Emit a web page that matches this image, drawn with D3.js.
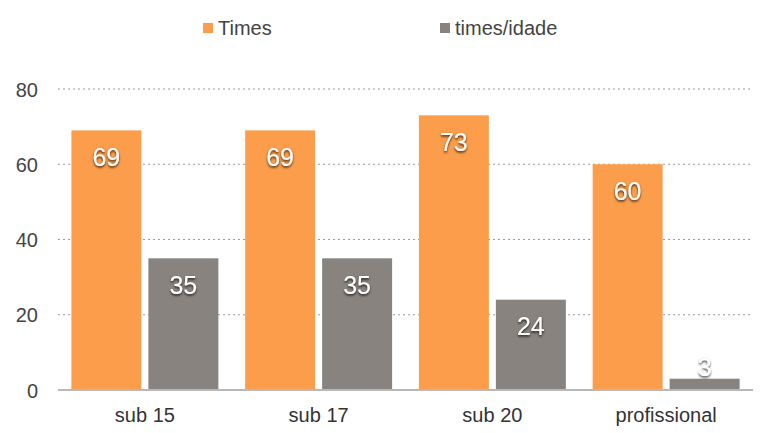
<!DOCTYPE html>
<html><head><meta charset="utf-8">
<script src="https://cdn.jsdelivr.net/npm/d3@7"></script>
<style>body{margin:0;background:#fff}svg{display:block}text{font-family:"Liberation Sans",Arial,sans-serif}</style>
</head><body>
<svg id="c" width="768" height="433"></svg>
<script>
const categories = ["sub 15","sub 17","sub 20","profissional"];
const seriesNames = ["Times","times/idade"];
const timesValues = [69,69,73,60];
const timesIdadeValues = [35,35,24,3];
const yTicks = [0,20,40,60,80];
const colors = ["#FB9D4B","#88837E"];

const svg = d3.select("#c");
const defs = svg.append("defs");
const f = defs.append("filter").attr("id","sh").attr("x","-50%").attr("y","-50%").attr("width","200%").attr("height","200%");
f.append("feDropShadow").attr("dx",0).attr("dy",1.5).attr("stdDeviation",1.1).attr("flood-color","#000").attr("flood-opacity",0.8);

const plotLeft=58, plotRight=753, plotTop=89, plotBottom=390;
const y = d3.scaleLinear().domain([0,80]).range([plotBottom,plotTop]);
const x0 = d3.scaleBand().domain(categories).range([plotLeft,plotRight]).paddingInner(0).paddingOuter(0);
const x1 = d3.scaleBand().domain(seriesNames).range([0,x0.bandwidth()]).paddingInner(0.0909).paddingOuter(0.174);

// gridlines
svg.append("g").selectAll("line").data(yTicks.filter(d=>d>0)).join("line")
  .attr("x1",plotLeft).attr("x2",plotRight).attr("y1",d=>y(d)).attr("y2",d=>y(d))
  .attr("stroke","#9a9a9a").attr("stroke-width",1).attr("stroke-dasharray","2,3");

// y axis labels
const yAxis = d3.axisLeft(y).tickValues(yTicks).tickSize(0).tickPadding(0);
const ya = svg.append("g").attr("transform",`translate(38,0)`).call(yAxis);
ya.select(".domain").remove();
ya.selectAll("text").attr("font-size",20).attr("fill","#444").attr("font-family","Liberation Sans, Arial, sans-serif").attr("dy","0.35em");

const data = categories.map((c,i)=>({cat:c, vals:[{s:seriesNames[0],v:timesValues[i]},{s:seriesNames[1],v:timesIdadeValues[i]}]}));

const g = svg.append("g").selectAll("g").data(data).join("g").attr("transform",d=>`translate(${x0(d.cat)},0)`);
g.selectAll("rect").data(d=>d.vals).join("rect")
  .attr("x",d=>x1(d.s)).attr("width",x1.bandwidth())
  .attr("y",d=>y(d.v)).attr("height",d=>plotBottom-y(d.v))
  .attr("fill",(d,i)=>colors[i]);

// baseline
svg.append("line").attr("x1",plotLeft).attr("x2",plotRight).attr("y1",plotBottom).attr("y2",plotBottom).attr("stroke","#b8b8b8").attr("stroke-width",2);

// value labels
g.selectAll("text.val").data(d=>d.vals).join("text").attr("class","val")
  .attr("x",d=>x1(d.s)+x1.bandwidth()/2)
  .attr("y",d=>(plotBottom-y(d.v))>40 ? y(d.v)+26.5 : y(d.v)-11)
  .attr("dy","0.35em").attr("text-anchor","middle")
  .attr("font-size",25).attr("fill","#fff").attr("filter","url(#sh)")
  .text(d=>d.v);

// x axis labels
const xAxis = d3.axisBottom(x0).tickSize(0).tickPadding(0);
const xa = svg.append("g").attr("transform",`translate(0,${plotBottom})`).call(xAxis);
xa.select(".domain").remove();
xa.selectAll("text").attr("font-size",20).attr("fill","#333").attr("font-family","Liberation Sans, Arial, sans-serif").attr("dy",0).attr("y",32);

// legend
const legX = [203,440];
const lg = svg.append("g").selectAll("g").data(seriesNames).join("g").attr("transform",(d,i)=>`translate(${legX[i]},0)`);
lg.append("rect").attr("x",0).attr("y",23).attr("width",10).attr("height",10).attr("fill",(d,i)=>colors[i]);
lg.append("text").attr("x",15).attr("y",35).attr("font-size",20).attr("fill","#444").text(d=>d);
</script>
</body></html>
